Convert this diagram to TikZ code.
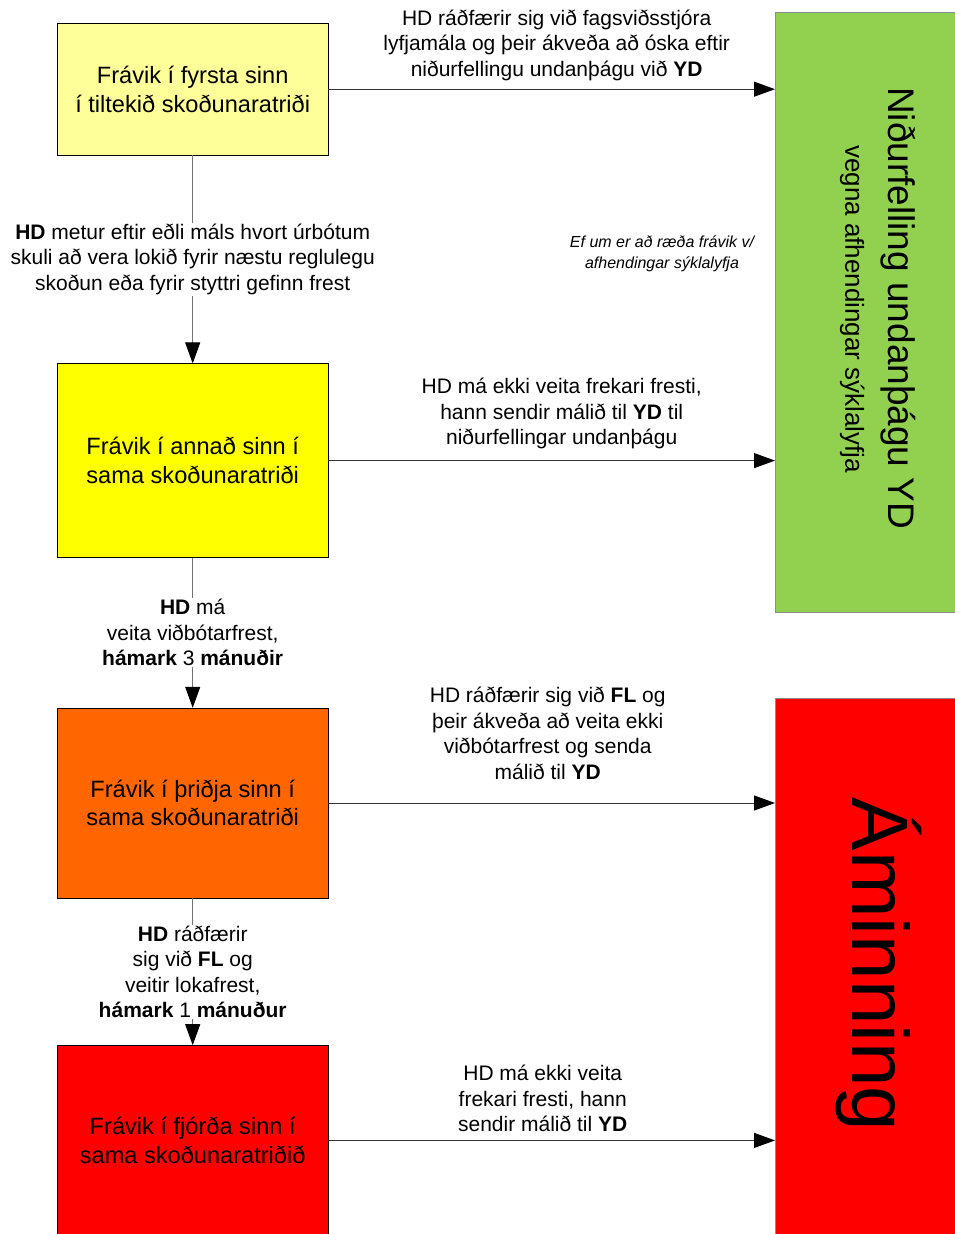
\documentclass[tikz,border=0pt]{standalone}
\usepackage{fontspec}
\setmainfont{Liberation Sans}
\usetikzlibrary{arrows.meta,positioning}
\definecolor{paleyellow}{HTML}{FFFF99}
\definecolor{brightyellow}{HTML}{FFFF00}
\definecolor{deviorange}{HTML}{FF6600}
\definecolor{devired}{HTML}{FF0000}
\definecolor{ydgreen}{HTML}{92D050}
\tikzset{
  stage/.style={draw=black, align=center, minimum width=271pt, inner sep=2pt, font=\fontsize{23.6}{28.5}\selectfont},
  outcome/.style={draw=black!45, minimum width=180pt, inner sep=0pt},
  arrow/.style={-{Triangle[length=21pt, width=15pt, color=black]}, draw=black!80, line width=1pt},
  down/.style={arrow, draw=black!55},
  small/.style={font=\fontsize{21}{25.5}\selectfont, align=center, inner sep=1pt},
  note/.style={font=\fontsize{16}{21}\selectfont\itshape, align=center},
}

\begin{document}
\begin{tikzpicture}[x=1pt, y=-1pt]
  \useasboundingbox (0,0) rectangle (955,1234);

  \node[stage, fill=paleyellow, minimum height=132pt, anchor=north west] (first) at (57,23) {Frávik í fyrsta sinn\\í tiltekið skoðunaratriði};
  \node[stage, fill=brightyellow, minimum height=194pt, below=208pt of first] (second) {Frávik í annað sinn í\\sama skoðunaratriði};
  \node[stage, fill=deviorange, minimum height=190pt, below=150pt of second] (third) {Frávik í þriðja sinn í\\sama skoðunaratriði};
  \node[stage, fill=devired, minimum height=190pt, below=147pt of third] (fourth) {Frávik í fjórða sinn í\\sama skoðunaratriðið};

  \node[outcome, fill=ydgreen, minimum height=600pt, anchor=north west] (cancel) at (775,12) {};
  \node[outcome, fill=devired, minimum height=536pt, below=86pt of cancel] (reminder) {};

  \node[rotate=-90, font=\fontsize{37}{40}\selectfont] (canceltitle) at ([xshift=33pt, yshift=4pt]cancel.center) {Niðurfelling undanþágu YD};
  \node[rotate=-90, font=\fontsize{26}{28}\selectfont] (cancelsub) at ([xshift=-13pt, yshift=3pt]cancel.center) {vegna afhendingar sýklalyfja};
  \node[rotate=-90, font=\fontsize{80}{90}\selectfont] (remindertitle) at ([xshift=14pt, yshift=2pt]reminder.center) {Áminning};

  \node[note] (supplynote) at (662,254) {Ef um er að ræða frávik v/\\afhendingar sýklalyfja};

  \draw[down] (first) -- (second) node[midway, small, fill=white] {\textbf{HD} metur eftir eðli máls hvort úrbótum\\skuli að vera lokið fyrir næstu reglulegu\\skoðun eða fyrir styttri gefinn frest};
  \draw[down] (second) -- (third) node[midway, small, fill=white] {\textbf{HD} má\\veita viðbótarfrest,\\\textbf{hámark} 3 \textbf{mánuðir}};
  \draw[down] (third) -- (fourth) node[midway, small, fill=white] {\textbf{HD} ráðfærir\\sig við \textbf{FL} og\\veitir lokafrest,\\\textbf{hámark} 1 \textbf{mánuður}};

  \draw[arrow] (first.east) -- (first.east -| cancel.west) node[midway, above=7pt, xshift=5pt, small] {HD ráðfærir sig við fagsviðsstjóra\\lyfjamála og þeir ákveða að óska eftir\\niðurfellingu undanþágu við \textbf{YD}};
  \draw[arrow] (second.east) -- (second.east -| cancel.west) node[midway, above=10pt, xshift=10pt, small] {HD má ekki veita frekari fresti,\\hann sendir málið til \textbf{YD} til\\niðurfellingar undanþágu};
  \draw[arrow] (third.east) -- (third.east -| reminder.west) node[midway, above=22pt, xshift=-4pt, small] {HD ráðfærir sig við \textbf{FL} og\\þeir ákveða að veita ekki\\viðbótarfrest og senda\\málið til \textbf{YD}};
  \draw[arrow] (fourth.east) -- (fourth.east -| reminder.west) node[midway, above=7pt, xshift=-9pt, small] {HD má ekki veita\\frekari fresti, hann\\sendir málið til \textbf{YD}};
\end{tikzpicture}
\end{document}
